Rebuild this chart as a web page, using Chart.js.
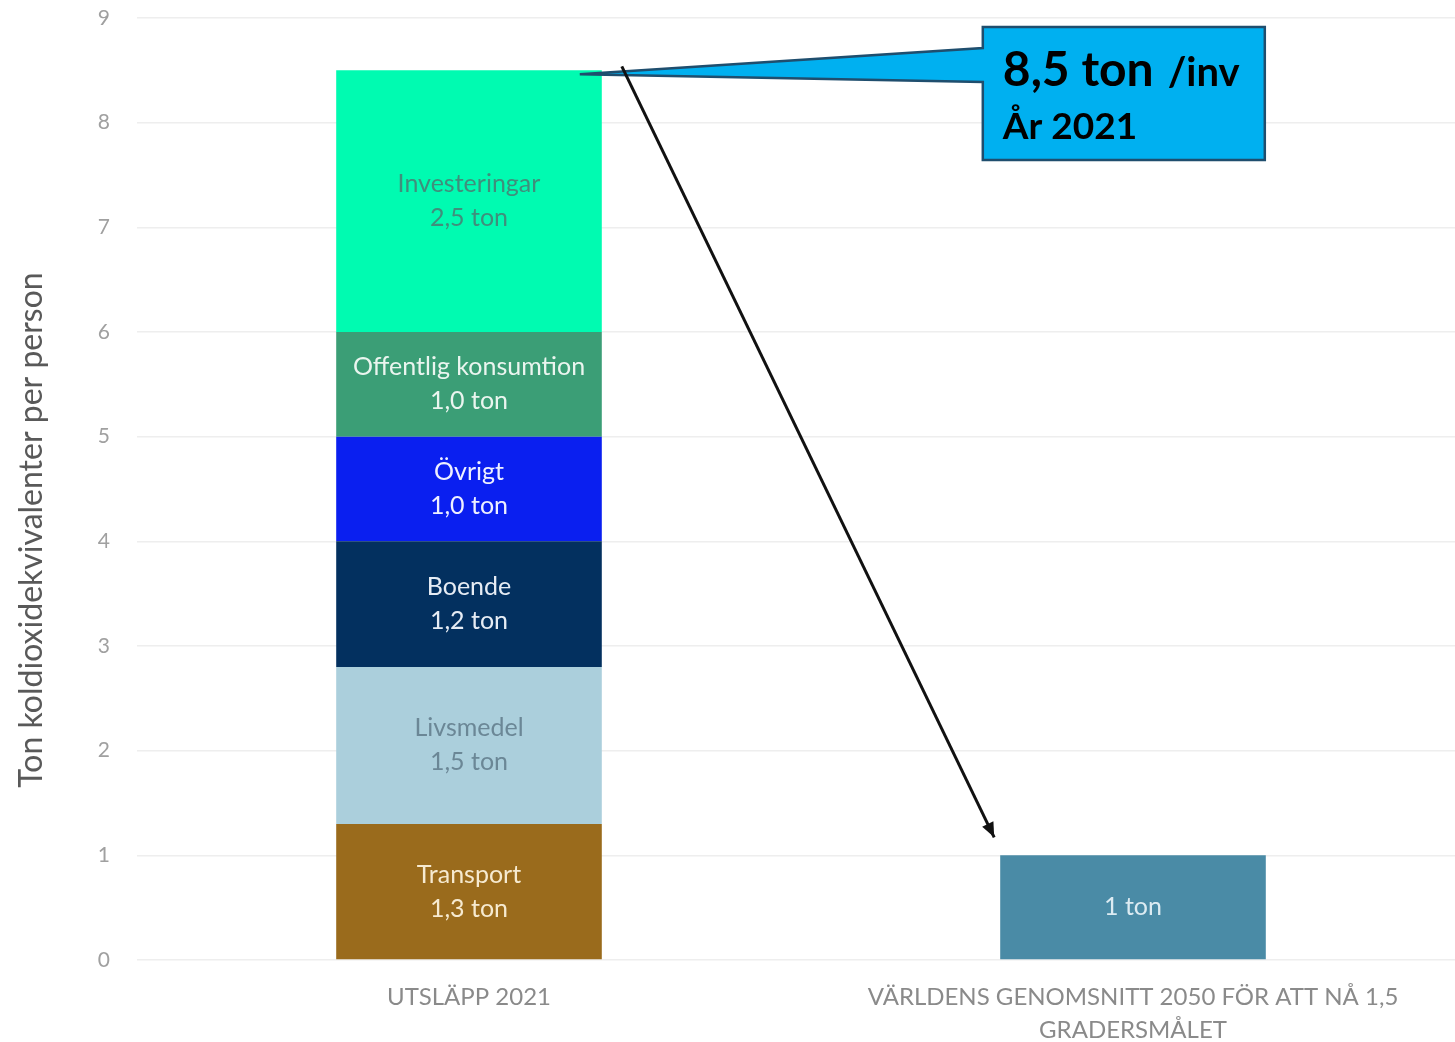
<!DOCTYPE html>
<html>
<head>
<meta charset="utf-8">
<script src="https://cdn.jsdelivr.net/npm/chart.js@4.4.0/dist/chart.umd.min.js"></script>
<style>
  html, body { margin: 0; padding: 0; background: #fff; overflow: hidden; }
  #wrap { width: 1465px; height: 1042px; }
</style>
</head>
<body>
<div id="wrap"><canvas id="co2Chart"></canvas></div>
<script>
// categories on the x axis
const categories = [
    'UTSLÄPP 2021',
    ['VÄRLDENS GENOMSNITT 2050 FÖR ATT NÅ 1,5', 'GRADERSMÅLET']
];

// segments of the first bar, bottom to top
const segmentNames = ['Transport', 'Livsmedel', 'Boende', 'Övrigt', 'Offentlig konsumtion', 'Investeringar'];
const segmentValues = [1.3, 1.5, 1.2, 1.0, 1.0, 2.5];
const segmentColors = ['#9a6b1c', '#abcfdc', '#03305f', '#0a1ff0', '#3b9e76', '#00fbb1'];
const segmentTextColors = ['#f6ead0', '#6b8796', '#e6ecf4', '#eef0ff', '#eaf5ef', '#3f8f7c'];

// second bar
const targetName = '1 ton';
const targetValue = 1;
const targetColor = '#4a8ba6';

const yTicks = [0, 1, 2, 3, 4, 5, 6, 7, 8, 9];
const yTitle = 'Ton koldioxidekvivalenter per person';
const totalLabel = '8,5 ton';

const datasets = segmentNames.map((name, i) => ({
    label: name,
    data: [segmentValues[i], null],
    backgroundColor: segmentColors[i],
    textColor: segmentTextColors[i],
    barPercentage: 0.4,
    categoryPercentage: 1
}));
datasets.push({
    label: targetName,
    data: [null, targetValue],
    backgroundColor: targetColor,
    textColor: '#dcebf2',
    barPercentage: 0.4,
    categoryPercentage: 1
});

function fmt(v) {
    return v.toFixed(1).replace('.', ',');
}

// labels inside each bar segment
const segmentLabels = {
    id: 'segmentLabels',
    afterDatasetsDraw(chart) {
        const ctx = chart.ctx;
        ctx.save();
        ctx.textAlign = 'center';
        ctx.textBaseline = 'middle';
        ctx.font = '25px Lato';
        chart.data.datasets.forEach((ds, i) => {
            const meta = chart.getDatasetMeta(i);
            meta.data.forEach((bar, j) => {
                const v = ds.data[j];
                if (v == null) return;
                const cy = (bar.y + bar.base) / 2;
                ctx.fillStyle = ds.textColor;
                if (j === 1) {
                    ctx.fillText(ds.label, bar.x, cy);
                } else {
                    ctx.fillText(ds.label, bar.x, cy - 17);
                    ctx.fillText(fmt(v) + ' ton', bar.x, cy + 17);
                }
            });
        });
        ctx.restore();
    }
};

// y axis title, sits a bit below the middle of the axis
const axisTitle = {
    id: 'axisTitle',
    afterDraw(chart) {
        const ctx = chart.ctx;
        const area = chart.chartArea;
        ctx.save();
        ctx.translate(32, (area.top + area.bottom) / 2 + 41);
        ctx.rotate(-Math.PI / 2);
        ctx.textAlign = 'center';
        ctx.textBaseline = 'middle';
        ctx.fillStyle = '#595959';
        ctx.font = '32px Lato';
        ctx.fillText(yTitle, 0, 0);
        ctx.restore();
    }
};

// callout box and arrow
const callout = {
    id: 'callout',
    afterDraw(chart) {
        const ctx = chart.ctx;
        const topBar = chart.getDatasetMeta(segmentNames.length - 1).data[0];
        const target = chart.getDatasetMeta(segmentNames.length).data[1];
        const half1 = topBar.width / 2;
        const half2 = target.width / 2;
        const tipX = topBar.x + half1 - 22;
        const tipY = topBar.y + 4;

        // box
        const bx = target.x + half2 - 283, by = 27, bw = 282, bh = 133;
        ctx.save();
        ctx.fillStyle = '#00b0f0';
        ctx.strokeStyle = '#1f4e6e';
        ctx.lineWidth = 2.5;
        ctx.beginPath();
        ctx.moveTo(bx, by);
        ctx.lineTo(bx + bw, by);
        ctx.lineTo(bx + bw, by + bh);
        ctx.lineTo(bx, by + bh);
        ctx.lineTo(bx, by + 55);
        ctx.lineTo(tipX, tipY);
        ctx.lineTo(bx, by + 21);
        ctx.closePath();
        ctx.fill();
        ctx.stroke();

        ctx.fillStyle = '#000';
        ctx.textBaseline = 'alphabetic';
        ctx.textAlign = 'left';
        ctx.font = 'bold 48px Lato';
        ctx.fillText(totalLabel, bx + 20, by + 59);
        const w = ctx.measureText(totalLabel).width;
        ctx.font = 'bold 40px Lato';
        ctx.fillText('/inv', bx + 20 + w + 14, by + 59);
        ctx.font = 'bold 37px Lato';
        ctx.fillText('År 2021', bx + 20, by + 112);

        // arrow
        const sx = topBar.x + half1 + 20, sy = topBar.y - 4;
        const ex = target.x - half2 - 6, ey = target.y - 18;
        ctx.strokeStyle = '#111';
        ctx.lineWidth = 3;
        ctx.beginPath();
        ctx.moveTo(sx, sy);
        ctx.lineTo(ex, ey);
        ctx.stroke();
        const ang = Math.atan2(ey - sy, ex - sx);
        ctx.fillStyle = '#111';
        ctx.beginPath();
        ctx.moveTo(ex, ey);
        ctx.lineTo(ex - 16 * Math.cos(ang - 0.4), ey - 16 * Math.sin(ang - 0.4));
        ctx.lineTo(ex - 16 * Math.cos(ang + 0.4), ey - 16 * Math.sin(ang + 0.4));
        ctx.closePath();
        ctx.fill();
        ctx.restore();
    }
};

document.addEventListener('DOMContentLoaded', function() {
    const ctx = document.getElementById('co2Chart').getContext('2d');
    new Chart(ctx, {
        type: 'bar',
        data: { labels: categories, datasets: datasets },
        options: {
            responsive: true,
            maintainAspectRatio: false,
            animation: false,
            layout: { padding: { top: 18, right: 0, left: 0, bottom: 0 } },
            plugins: {
                legend: { display: false },
                tooltip: { enabled: false }
            },
            scales: {
                x: {
                    stacked: true,
                    grid: { display: false },
                    border: { display: false },
                    ticks: {
                        color: '#8a8a8a',
                        padding: 12,
                        font: { family: 'Lato', size: 24, lineHeight: 1.4 }
                    },
                    afterFit(scale) { scale.height = 82; }
                },
                y: {
                    stacked: true,
                    min: 0,
                    max: 9,
                    afterBuildTicks(scale) {
                        scale.ticks = yTicks.map(v => ({ value: v }));
                    },
                    grid: { color: '#eeeeee', lineWidth: 1.5, drawTicks: false },
                    border: { display: false },
                    ticks: {
                        color: '#a0a0a0',
                        padding: 27,
                        font: { family: 'Lato', size: 21 }
                    },
                    afterFit(scale) {
                        scale.width = 137;
                        scale.paddingTop = 0;
                        scale.paddingBottom = 0;
                    }
                }
            }
        },
        plugins: [segmentLabels, axisTitle, callout]
    });
});
</script>
</body>
</html>
